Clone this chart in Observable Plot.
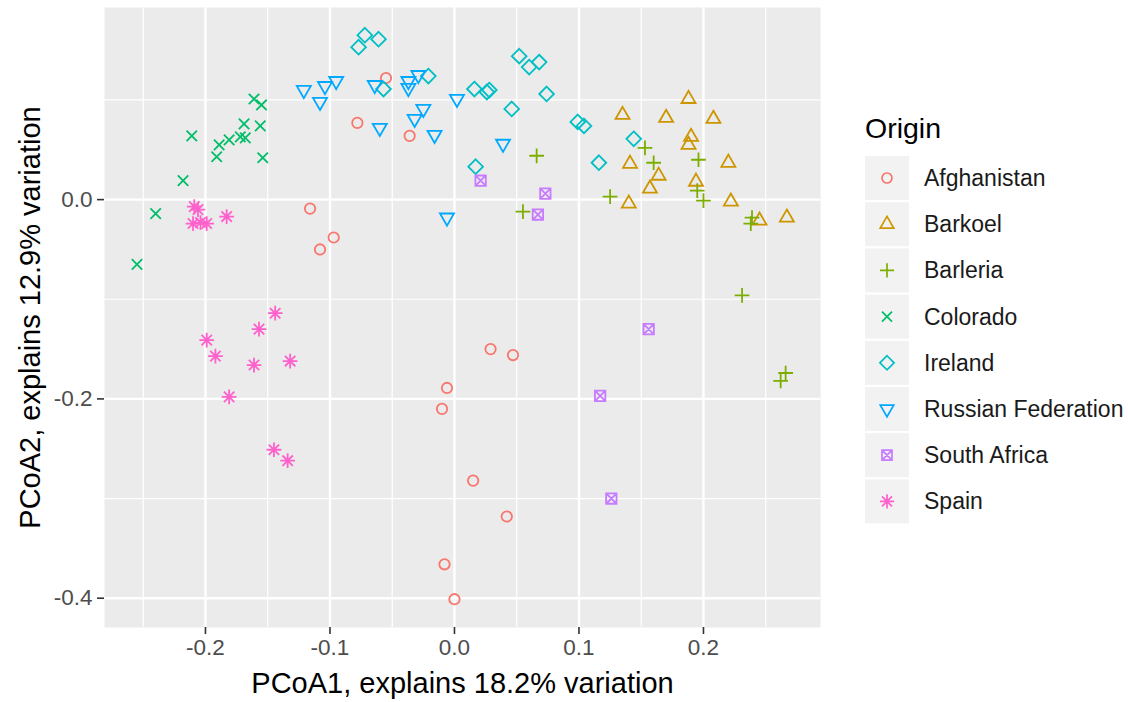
<!DOCTYPE html>
<html>
<head>
<meta charset="utf-8">
<script src="https://cdn.jsdelivr.net/npm/d3@7"></script>
<script src="https://cdn.jsdelivr.net/npm/@observablehq/plot@0.6"></script>
<style>
  html, body { margin: 0; padding: 0; background: #fff; }
  #chart { position: relative; width: 1128px; height: 702px; font-family: "Liberation Sans", Arial, sans-serif; }
  #chart svg { position: absolute; left: 0; top: 0; }
</style>
</head>
<body>
<div id="chart"></div>
<script>
// PCoA coordinates per origin: [PCoA1, PCoA2]
const afghanistan = [[-0.055,0.122],[-0.078,0.077],[-0.036,0.064],[-0.116,-0.009],[-0.097,-0.038],[-0.108,-0.050],[-0.006,-0.189],[-0.010,-0.210],[-0.008,-0.366],[0.000,-0.401],[0.029,-0.150],[0.047,-0.156],[0.015,-0.282],[0.042,-0.318]];
const barkoel = [[0.188,0.101],[0.135,0.085],[0.170,0.082],[0.208,0.081],[0.190,0.063],[0.188,0.055],[0.141,0.036],[0.220,0.037],[0.164,0.024],[0.194,0.018],[0.157,0.011],[0.140,-0.004],[0.222,-0.002],[0.245,-0.021],[0.267,-0.018]];
const barleria = [[0.066,0.044],[0.153,0.052],[0.160,0.037],[0.196,0.040],[0.195,0.009],[0.200,-0.001],[0.125,0.003],[0.055,-0.012],[0.239,-0.018],[0.238,-0.024],[0.231,-0.096],[0.266,-0.174],[0.262,-0.182]];
const colorado = [[-0.161,0.101],[-0.155,0.095],[-0.169,0.076],[-0.156,0.074],[-0.211,0.064],[-0.189,0.055],[-0.181,0.060],[-0.172,0.063],[-0.168,0.062],[-0.191,0.043],[-0.154,0.042],[-0.218,0.019],[-0.240,-0.014],[-0.255,-0.065]];
const ireland = [[-0.072,0.165],[-0.077,0.153],[-0.061,0.161],[-0.057,0.111],[-0.021,0.124],[0.052,0.144],[0.060,0.133],[0.068,0.138],[0.016,0.111],[0.026,0.108],[0.028,0.110],[0.074,0.106],[0.046,0.091],[0.099,0.078],[0.104,0.074],[0.144,0.061],[0.017,0.033],[0.116,0.037]];
const russianFederation = [[-0.121,0.110],[-0.104,0.114],[-0.095,0.119],[-0.108,0.098],[-0.064,0.115],[-0.037,0.119],[-0.037,0.112],[-0.029,0.125],[0.002,0.101],[-0.025,0.091],[-0.032,0.081],[-0.060,0.072],[-0.016,0.065],[-0.006,-0.018],[0.039,0.056]];
const southAfrica = [[0.021,0.019],[0.073,0.006],[0.067,-0.015],[0.156,-0.130],[0.117,-0.197],[0.126,-0.300]];
const spain = [[-0.209,-0.007],[-0.206,-0.010],[-0.210,-0.024],[-0.204,-0.023],[-0.199,-0.024],[-0.183,-0.017],[-0.144,-0.114],[-0.157,-0.130],[-0.199,-0.141],[-0.192,-0.157],[-0.161,-0.166],[-0.132,-0.162],[-0.181,-0.198],[-0.145,-0.251],[-0.134,-0.262]];

const origins = ["Afghanistan","Barkoel","Barleria","Colorado","Ireland","Russian Federation","South Africa","Spain"];
const originPoints = [afghanistan, barkoel, barleria, colorado, ireland, russianFederation, southAfrica, spain];
const originColors = ["#F8766D","#CD9600","#7CAE00","#00BE67","#00BFC4","#00A9FF","#C77CFF","#FF61CC"];

const xTicks = [-0.2, -0.1, 0.0, 0.1, 0.2];
const xMinor = [-0.25, -0.15, -0.05, 0.05, 0.15, 0.25];
const yTicks = [-0.4, -0.2, 0.0];
const yMinor = [-0.3, -0.1, 0.1];

// Point shapes in the style of R's pch 1..8 (size is area; R = equivalent radius)
const rad = s => Math.sqrt(s / Math.PI);
const shapes = [
  { draw(c, s) { const r = rad(s); c.moveTo(r, 0); c.arc(0, 0, r, 0, 2 * Math.PI); c.closePath(); } },
  { draw(c, s) { const r = rad(s); c.moveTo(0, -1.555 * r); c.lineTo(1.347 * r, 0.778 * r); c.lineTo(-1.347 * r, 0.778 * r); c.closePath(); } },
  { draw(c, s) { const r = rad(s) * 1.414; c.moveTo(-r, 0); c.lineTo(r, 0); c.moveTo(0, -r); c.lineTo(0, r); } },
  { draw(c, s) { const r = rad(s); c.moveTo(-r, -r); c.lineTo(r, r); c.moveTo(-r, r); c.lineTo(r, -r); } },
  { draw(c, s) { const r = rad(s) * 1.414; c.moveTo(0, -r); c.lineTo(r, 0); c.lineTo(0, r); c.lineTo(-r, 0); c.closePath(); } },
  { draw(c, s) { const r = rad(s); c.moveTo(0, 1.555 * r); c.lineTo(1.347 * r, -0.778 * r); c.lineTo(-1.347 * r, -0.778 * r); c.closePath(); } },
  { draw(c, s) { const r = rad(s); c.moveTo(-r, -r); c.lineTo(r, -r); c.lineTo(r, r); c.lineTo(-r, r); c.closePath();
                 c.moveTo(-r, -r); c.lineTo(r, r); c.moveTo(-r, r); c.lineTo(r, -r); } },
  { draw(c, s) { const r = rad(s), p = r * 1.414; c.moveTo(-p, 0); c.lineTo(p, 0); c.moveTo(0, -p); c.lineTo(0, p);
                 c.moveTo(-r, -r); c.lineTo(r, r); c.moveTo(-r, r); c.lineTo(r, -r); } }
];

const fmt = d => d.toFixed(1);
const W = 1128, H = 702;

const plot = Plot.plot({
  width: W,
  height: H,
  marginLeft: 104,
  marginRight: 308,
  marginTop: 7,
  marginBottom: 75,
  style: { fontFamily: "'Liberation Sans', Arial, sans-serif", background: "transparent" },
  x: { domain: [-0.2811, 0.2940] },
  y: { domain: [-0.4294, 0.1928] },
  marks: [
    Plot.frame({ fill: "#EBEBEB", stroke: null }),
    Plot.gridX(xMinor, { stroke: "#fff", strokeOpacity: 1, strokeWidth: 1.2 }),
    Plot.gridY(yMinor, { stroke: "#fff", strokeOpacity: 1, strokeWidth: 1.2 }),
    Plot.gridX(xTicks, { stroke: "#fff", strokeOpacity: 1, strokeWidth: 2.4 }),
    Plot.gridY(yTicks, { stroke: "#fff", strokeOpacity: 1, strokeWidth: 2.4 }),
    Plot.axisX(xTicks, { tickFormat: fmt, tickSize: 7, tickPadding: 5, stroke: "#333", strokeWidth: 1.6, fill: "#4D4D4D", fontSize: 22.5, label: null }),
    Plot.axisY(yTicks, { tickFormat: fmt, tickSize: 7, tickPadding: 5, stroke: "#333", strokeWidth: 1.6, fill: "#4D4D4D", fontSize: 22.5, label: null }),
    ...originPoints.map((pts, i) =>
      Plot.dot(pts, { x: d => d[0], y: d => d[1], symbol: shapes[i], r: 5.2, stroke: originColors[i], strokeWidth: 1.8, fill: "none" })
    ),
    Plot.text(["PCoA1, explains 18.2% variation"], { frameAnchor: "bottom", dy: 65, fontSize: 29, fill: "#000" }),
    Plot.text(["PCoA2, explains 12.9% variation"], { frameAnchor: "left", textAnchor: "middle", dx: -74, rotate: -90, fontSize: 29, fill: "#000" })
  ]
});

const chart = document.getElementById("chart");
chart.appendChild(plot);

// Legend for the origin groups
const legend = d3.select(chart).append("svg")
  .attr("width", W).attr("height", H)
  .style("font-family", "'Liberation Sans', Arial, sans-serif");

legend.append("text").attr("x", 865).attr("y", 138).attr("font-size", 28.5).attr("fill", "#000").text("Origin");

const keyTop = 156, keyStep = 46.2, keySize = 44;
origins.forEach((name, i) => {
  const y0 = keyTop + i * keyStep;
  const g = legend.append("g");
  g.append("rect").attr("x", 865).attr("y", y0).attr("width", keySize).attr("height", keySize).attr("fill", "#F2F2F2");
  g.append("path")
    .attr("transform", `translate(${865 + keySize / 2},${y0 + keySize / 2})`)
    .attr("d", d3.symbol(shapes[i], Math.PI * 25)())
    .attr("fill", "none").attr("stroke", originColors[i]).attr("stroke-width", 1.7);
  g.append("text").attr("x", 924).attr("y", y0 + keySize / 2).attr("dy", "0.35em")
    .attr("font-size", 23).attr("fill", "#1A1A1A").text(name);
});
</script>
</body>
</html>
